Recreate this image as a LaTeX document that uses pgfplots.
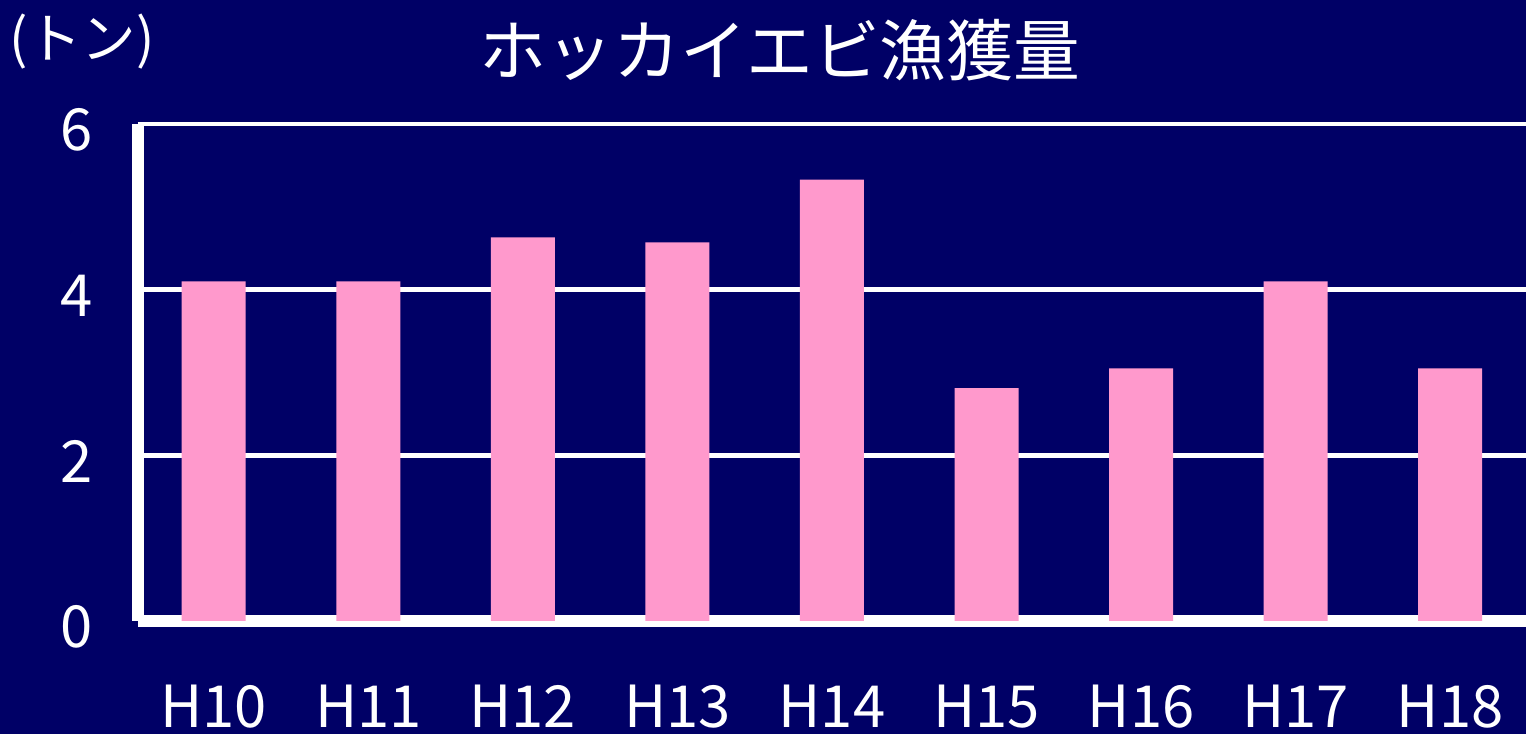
\documentclass[border=0pt]{standalone}
\usepackage{pgfplots}
\pgfplotsset{compat=1.18}
\usepackage{fontspec}
\setmainfont{Noto Sans CJK JP}
\definecolor{navy}{RGB}{0,0,102}
\definecolor{barpink}{RGB}{255,153,204}

\begin{document}
\begin{tikzpicture}
\fill[navy] (-1.38cm,-1.13cm) rectangle (13.88cm,6.21cm);
\begin{axis}[
    scale only axis,
    clip=false,
    width=13.88cm,
    height=4.97cm,
    at={(0,0)}, anchor=south west,
    ybar,
    bar width=0.64cm,
    xmin=-0.49, xmax=8.49,
    ymin=0, ymax=6,
    xtick=data,
    xticklabels={H10,H11,H12,H13,H14,H15,H16,H17,H18},
    ytick={0,2,4,6},
    major tick length=0pt,
    axis x line=bottom,
    axis y line=left,
    axis line style={-, white, line width=3.2pt},
    ymajorgrids,
    major grid style={white, line width=1.4pt},
    /pgf/number format/assume math mode=true,
    ticklabel style={font=\fontsize{16.5}{18}\selectfont, text=white},
    yticklabel style={xshift=-0.33cm, yshift=-0.06cm},
    xticklabel style={yshift=-0.52cm},
    title={ホッカイエビ漁獲量},
    title style={at={(0.4625,1)}, anchor=center, yshift=0.53cm,
        font=\fontsize{19}{22}\selectfont, text=white},
]
\addplot[fill=barpink, draw=none] coordinates {
    (0,4.10) (1,4.10) (2,4.63) (3,4.57) (4,5.33)
    (5,2.81) (6,3.05) (7,4.10) (8,3.05)
};
\node[text=white, font=\fontsize{15.5}{18}\selectfont] at (rel axis cs:0,1) [xshift=-0.56cm, yshift=0.82cm] {(トン)};
\end{axis}
\pgfresetboundingbox
\path[use as bounding box] (-1.38cm,-1.13cm) rectangle (13.88cm,6.21cm);
\end{tikzpicture}
\end{document}
